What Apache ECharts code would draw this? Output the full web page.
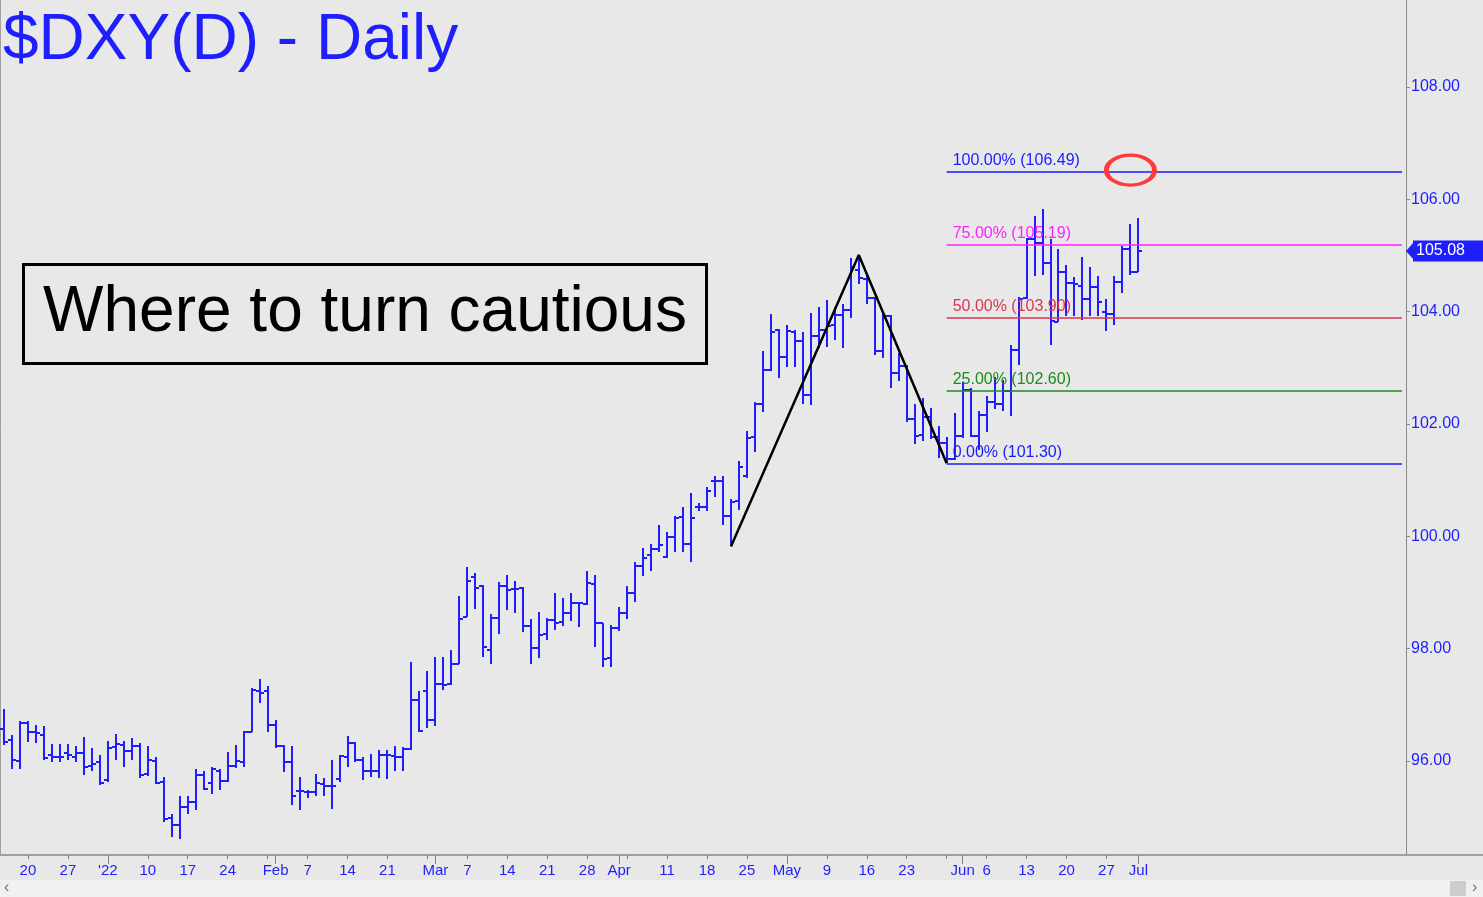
<!DOCTYPE html>
<html>
<head>
<meta charset="utf-8">
<script src="https://cdn.jsdelivr.net/npm/echarts@6/dist/echarts.min.js"></script>
<style>
  html, body { margin: 0; padding: 0; background: #e8e8e8; }
  #chart { width: 1483px; height: 897px; }
</style>
</head>
<body>
<div id="chart"></div>
<script>
// ---- trading days (categories) ----
const dates = [
  '2021-12-15','2021-12-16','2021-12-17',
  '2021-12-20','2021-12-21','2021-12-22','2021-12-23','2021-12-24',
  '2021-12-27','2021-12-28','2021-12-29','2021-12-30','2021-12-31',
  '2022-01-03','2022-01-04','2022-01-05','2022-01-06','2022-01-07',
  '2022-01-10','2022-01-11','2022-01-12','2022-01-13','2022-01-14',
  '2022-01-17','2022-01-18','2022-01-19','2022-01-20','2022-01-21',
  '2022-01-24','2022-01-25','2022-01-26','2022-01-27','2022-01-28',
  '2022-01-31','2022-02-01','2022-02-02','2022-02-03','2022-02-04',
  '2022-02-07','2022-02-08','2022-02-09','2022-02-10','2022-02-11',
  '2022-02-14','2022-02-15','2022-02-16','2022-02-17','2022-02-18',
  '2022-02-21','2022-02-22','2022-02-23','2022-02-24','2022-02-25',
  '2022-02-28','2022-03-01','2022-03-02','2022-03-03','2022-03-04',
  '2022-03-07','2022-03-08','2022-03-09','2022-03-10','2022-03-11',
  '2022-03-14','2022-03-15','2022-03-16','2022-03-17','2022-03-18',
  '2022-03-21','2022-03-22','2022-03-23','2022-03-24','2022-03-25',
  '2022-03-28','2022-03-29','2022-03-30','2022-03-31','2022-04-01',
  '2022-04-04','2022-04-05','2022-04-06','2022-04-07','2022-04-08',
  '2022-04-11','2022-04-12','2022-04-13','2022-04-14','2022-04-15',
  '2022-04-18','2022-04-19','2022-04-20','2022-04-21','2022-04-22',
  '2022-04-25','2022-04-26','2022-04-27','2022-04-28','2022-04-29',
  '2022-05-02','2022-05-03','2022-05-04','2022-05-05','2022-05-06',
  '2022-05-09','2022-05-10','2022-05-11','2022-05-12','2022-05-13',
  '2022-05-16','2022-05-17','2022-05-18','2022-05-19','2022-05-20',
  '2022-05-23','2022-05-24','2022-05-25','2022-05-26','2022-05-27',
  '2022-05-30','2022-05-31','2022-06-01','2022-06-02','2022-06-03',
  '2022-06-06','2022-06-07','2022-06-08','2022-06-09','2022-06-10',
  '2022-06-13','2022-06-14','2022-06-15','2022-06-16','2022-06-17',
  '2022-06-20','2022-06-21','2022-06-22','2022-06-23','2022-06-24',
  '2022-06-27','2022-06-28','2022-06-29','2022-06-30','2022-07-01'
];
// empty slots to the right of the last bar (chart's blank future area)
const futureSlots = 33;

// ---- OHLC values ----
const open = [
  96.57,96.37,96.00,96.68,96.51,96.47,96.10,96.07,96.14,96.08,
  96.14,95.91,95.99,95.67,96.25,96.29,96.18,96.27,95.77,96.00,
  95.62,94.99,94.87,95.18,95.27,95.76,95.60,95.82,95.64,95.91,
  95.99,96.52,97.24,97.25,96.64,96.27,95.99,95.47,95.45,95.44,
  95.59,95.56,95.68,96.07,96.32,96.01,95.83,95.83,96.10,96.09,
  96.08,96.21,97.08,97.25,96.73,97.38,97.38,97.73,98.56,99.28,
  99.12,97.98,98.55,99.11,99.07,99.08,98.40,98.02,98.26,98.51,
  98.47,98.64,98.81,98.80,99.16,98.45,97.83,98.37,98.64,99.00,
  99.47,99.66,99.77,99.64,99.99,100.34,99.86,100.52,100.52,100.99,
  100.99,100.36,100.63,101.07,101.76,102.35,102.96,103.68,103.20,103.64,
  103.48,102.51,103.56,103.68,103.77,103.94,104.03,104.74,104.58,104.25,
  103.30,103.93,102.91,103.04,102.09,101.81,102.13,101.76,101.67,101.37,
  101.78,102.60,101.78,102.16,102.40,102.35,102.58,103.31,104.24,105.29,
  105.22,104.86,103.82,104.71,104.51,104.45,104.22,104.44,104.00,103.96,
  104.52,105.12,104.70
];
const high = [
  96.93,96.47,96.71,96.71,96.65,96.62,96.30,96.30,96.30,96.27,
  96.42,96.23,96.11,96.35,96.49,96.35,96.41,96.32,96.26,96.08,
  95.71,95.05,95.37,95.37,95.86,95.82,95.89,95.86,96.16,96.29,
  96.54,97.30,97.46,97.33,96.73,96.29,96.27,95.71,95.49,95.77,
  95.69,96.02,96.11,96.45,96.33,96.07,96.13,96.19,96.19,96.27,
  96.25,97.76,97.24,97.61,97.85,97.85,97.98,98.94,99.45,99.35,
  99.13,98.62,99.19,99.32,99.21,99.10,98.53,98.65,98.55,99.00,
  98.90,99.00,98.84,99.39,99.32,98.46,98.43,98.75,99.12,99.54,
  99.79,99.86,100.21,100.07,100.36,100.53,100.78,100.59,100.88,101.07,
  101.07,100.67,101.35,101.87,102.39,103.30,103.96,103.69,103.77,103.68,
  103.64,103.97,104.09,104.21,104.09,104.13,104.95,105.01,104.63,104.27,
  103.96,103.94,103.26,103.05,102.35,102.46,102.29,101.96,101.76,102.19,
  102.74,102.64,102.24,102.49,102.83,102.78,103.41,104.27,105.31,105.70,
  105.82,105.30,105.12,104.83,104.62,104.98,104.79,104.64,104.22,104.64,
  105.17,105.56,105.66
];
const low = [
  96.29,95.85,95.86,96.33,96.32,96.01,95.99,95.98,96.02,95.99,
  95.76,95.82,95.58,95.62,96.02,95.89,96.02,95.70,95.74,95.59,
  94.91,94.65,94.62,95.05,95.12,95.49,95.41,95.49,95.62,95.88,
  95.89,96.51,97.04,96.51,96.23,95.80,95.22,95.12,95.34,95.37,
  95.37,95.14,95.62,95.89,95.99,95.66,95.71,95.69,95.68,95.83,
  95.83,96.19,96.51,96.59,96.62,97.27,97.36,97.72,98.56,98.71,
  97.85,97.72,98.27,98.68,98.63,98.29,97.72,97.83,98.15,98.33,
  98.40,98.49,98.39,98.78,98.03,97.67,97.67,98.31,98.52,98.83,
  99.30,99.39,99.72,99.61,99.73,99.73,99.55,100.45,100.46,100.70,
  100.21,99.82,100.47,101.04,101.51,102.22,102.95,102.82,103.02,103.02,
  102.35,102.34,103.35,103.38,103.50,103.36,103.89,104.49,104.13,103.23,
  103.17,102.65,102.76,102.03,101.64,101.69,101.74,101.40,101.30,101.36,
  101.75,101.77,101.54,101.85,102.26,102.24,102.15,103.05,104.22,104.63,
  104.65,103.41,103.81,103.93,103.93,103.86,103.93,103.93,103.66,103.77,
  104.33,104.66,104.70
];
const close = [
  96.34,96.01,96.68,96.51,96.50,96.05,96.07,96.07,96.10,96.15,
  95.89,95.95,95.61,96.23,96.31,96.17,96.26,95.76,96.01,95.61,
  94.96,94.87,95.18,95.27,95.76,95.51,95.85,95.64,95.91,96.00,
  96.52,97.27,97.22,96.64,96.27,95.99,95.38,95.46,95.44,95.61,
  95.56,95.56,96.09,96.32,96.02,95.83,95.83,96.11,96.11,96.08,
  96.21,97.08,96.53,96.73,97.38,97.36,97.73,98.53,99.20,99.08,
  98.03,98.55,99.11,99.05,99.06,98.40,98.02,98.25,98.51,98.46,
  98.64,98.81,98.82,99.17,98.45,97.82,98.37,98.64,99.00,99.48,
  99.61,99.77,99.85,99.99,100.33,99.86,100.33,100.52,100.80,100.99,
  100.36,100.62,101.23,101.75,102.35,102.96,103.63,103.20,103.65,103.48,
  102.51,103.56,103.68,103.75,103.94,104.03,104.80,104.60,104.25,103.30,
  103.93,102.91,103.04,102.09,101.78,102.13,101.76,101.67,101.37,101.78,
  102.60,101.78,102.16,102.40,102.35,102.58,103.31,104.23,105.29,105.22,
  104.86,103.84,104.71,104.51,104.49,104.22,104.44,104.18,103.95,104.52,
  105.12,104.70,105.08
];

// ---- annotations ----
const fibLevels = [106.49, 105.19, 103.90, 102.60, 101.30];
const fibLabels = ['100.00% (106.49)', '75.00% (105.19)', '50.00% (103.90)', '25.00% (102.60)', '0.00% (101.30)'];
const fibColors = ['#1a1aff', '#ff22ff', '#dc3550', '#1a8c1a', '#1a1aff'];
const fibStartIndex = 118;
const abcIndex = [91, 107, 118];
const abcValue = [99.82, 105.01, 101.30];
const lastPrice = 105.08;
const targetPoint = [141, 106.52];
const monthNames = ['Jan','Feb','Mar','Apr','May','Jun','Jul','Aug','Sep','Oct','Nov','Dec'];

// ---- derived axis helpers ----
const nCat = dates.length + futureSlots;
const categories = [];
for (let i = 0; i < nCat; i++) categories.push(i < dates.length ? dates[i] : 'f' + i);
function isMonthStart(i) {
  return i > 0 && i < dates.length && dates[i].slice(5, 7) !== dates[i - 1].slice(5, 7);
}
function isMonday(i) {
  return i < dates.length && new Date(dates[i] + 'T00:00:00Z').getUTCDay() === 1;
}
const tickLabels = categories.map((d, i) => {
  if (i >= dates.length) return '';
  if (isMonthStart(i)) {
    const m = parseInt(dates[i].slice(5, 7), 10);
    return m === 1 ? "'" + dates[i].slice(2, 4) : monthNames[m - 1];
  }
  if (isMonday(i)) {
    for (let k = i - 2; k <= i + 2; k++) if (isMonthStart(k)) return '';
    return String(parseInt(dates[i].slice(8, 10), 10));
  }
  return '';
});

const ohlc = dates.map((d, i) => [i, open[i], high[i], low[i], close[i]]);
const barColor = '#1e1eff';
const font = 'Liberation Sans, Arial, sans-serif';

const chart = echarts.init(document.getElementById('chart'), null, { renderer: 'canvas' });

const markLineData = fibLevels.map((v, k) => [
  {
    coord: [fibStartIndex, v],
    lineStyle: { color: fibColors[k], width: 1.5, type: 'solid' },
    label: {
      show: true, position: 'insideStartTop', formatter: fibLabels[k],
      color: fibColors[k], fontSize: 16, fontFamily: font, distance: [6, 3]
    }
  },
  { coord: [nCat - 1, v] }
]);
markLineData.push({
  yAxis: lastPrice,
  lineStyle: { color: 'rgba(0,0,0,0)', width: 1 },
  label: {
    show: true, position: 'end', formatter: lastPrice.toFixed(2),
    color: '#ffffff', backgroundColor: barColor, fontSize: 16, fontFamily: font,
    padding: [3, 30, 2, 3], distance: 7
  }
});

chart.setOption({
  backgroundColor: '#e8e8e8',
  animation: false,
  title: {
    text: '$DXY(D) - Daily', left: 3, top: 9, padding: 0,
    textStyle: { color: barColor, fontSize: 64, fontWeight: 'normal', fontFamily: font }
  },
  grid: { left: -2, right: 77, top: 0, bottom: 42, containLabel: false },
  xAxis: [{
    type: 'category', data: categories, boundaryGap: true,
    axisLine: { show: true, lineStyle: { color: '#a0a0a0', width: 2 } },
    axisTick: { show: true, alignWithLabel: true, length: 4, lineStyle: { color: '#808080' },
      interval: (i) => isMonday(i) || isMonthStart(i) },
    axisLabel: { show: true, interval: 0, margin: 8, color: barColor, fontSize: 15, fontFamily: font,
      formatter: (v, i) => tickLabels[i] },
    splitLine: { show: false }
  }, {
    type: 'category', data: categories, boundaryGap: true, position: 'bottom',
    axisLine: { show: false },
    axisTick: { show: true, alignWithLabel: true, length: 9, lineStyle: { color: '#808080' },
      interval: (i) => isMonthStart(i) },
    axisLabel: { show: false },
    splitLine: { show: false }
  }],
  yAxis: {
    type: 'value', position: 'right', min: 94.327, max: 109.549,
    minInterval: 2, maxInterval: 2, splitNumber: 8,
    axisLine: { show: true, lineStyle: { color: '#8a8a8a', width: 1 } },
    axisTick: { show: true, length: 4, lineStyle: { color: '#8a8a8a' } },
    axisLabel: { show: true, margin: 5, color: barColor, fontSize: 16, fontFamily: font,
      showMinLabel: false, showMaxLabel: false, formatter: (v) => v.toFixed(2) },
    splitLine: { show: false }
  },
  series: [{
    type: 'custom',
    name: 'DXY',
    data: ohlc,
    encode: { x: 0, y: [1, 2, 3, 4] },
    renderItem: function (params, api) {
      const idx = api.value(0);
      const pO = api.coord([idx, api.value(1)]);
      const pH = api.coord([idx, api.value(2)]);
      const pL = api.coord([idx, api.value(3)]);
      const pC = api.coord([idx, api.value(4)]);
      const x = Math.round(pO[0]);
      const st = { stroke: barColor, lineWidth: 2 };
      return {
        type: 'group',
        children: [
          { type: 'line', shape: { x1: x, y1: Math.round(pH[1]), x2: x, y2: Math.round(pL[1]) }, style: st },
          { type: 'line', shape: { x1: x - 4, y1: Math.round(pO[1]), x2: x, y2: Math.round(pO[1]) }, style: st },
          { type: 'line', shape: { x1: x, y1: Math.round(pC[1]), x2: x + 4, y2: Math.round(pC[1]) }, style: st }
        ]
      };
    },
    markLine: { symbol: 'none', silent: true, animation: false, data: markLineData },
    markPoint: {
      silent: true, animation: false,
      data: [
        {
          coord: targetPoint, symbol: 'circle', symbolSize: [48, 30],
          itemStyle: { color: 'rgba(0,0,0,0)', borderColor: '#ff3a3a', borderWidth: 4 },
          label: { show: false }
        },
        {
          coord: [nCat - 1, lastPrice], symbol: 'triangle', symbolRotate: 90,
          symbolSize: [18, 8], symbolOffset: [8, 0],
          itemStyle: { color: barColor }, label: { show: false }
        }
      ]
    }
  }, {
    type: 'line',
    name: 'ABC',
    data: abcIndex.map((x, k) => [x, abcValue[k]]),
    symbol: 'none',
    lineStyle: { color: '#000000', width: 2.5 },
    z: 3
  }],
  graphic: [
    { type: 'rect', shape: { x: 23.5, y: 264.5, width: 683, height: 99 },
      style: { fill: '#e8e8e8', stroke: '#000000', lineWidth: 3 } },
    { type: 'text', x: 365, y: 313,
      style: { text: 'Where to turn cautious', fill: '#000000', font: '64px ' + font,
        textAlign: 'center', textVerticalAlign: 'middle' } },
    { type: 'line', shape: { x1: 1406, y1: 855, x2: 1483, y2: 855 },
      style: { stroke: '#a0a0a0', lineWidth: 2 } },
    { type: 'line', shape: { x1: 0.5, y1: 0, x2: 0.5, y2: 855 },
      style: { stroke: '#a0a0a0', lineWidth: 1 } },
    { type: 'rect', shape: { x: 0, y: 880, width: 1483, height: 17 },
      style: { fill: '#f0f0f0' } },
    { type: 'rect', shape: { x: 1450, y: 881, width: 16, height: 15 },
      style: { fill: '#cdcdcd' } },
    { type: 'text', x: 4, y: 888,
      style: { text: '‹', fill: '#707070', font: '16px ' + font, textVerticalAlign: 'middle' } },
    { type: 'text', x: 1472, y: 888,
      style: { text: '›', fill: '#707070', font: '16px ' + font, textVerticalAlign: 'middle' } }
  ]
});
</script>
</body>
</html>
